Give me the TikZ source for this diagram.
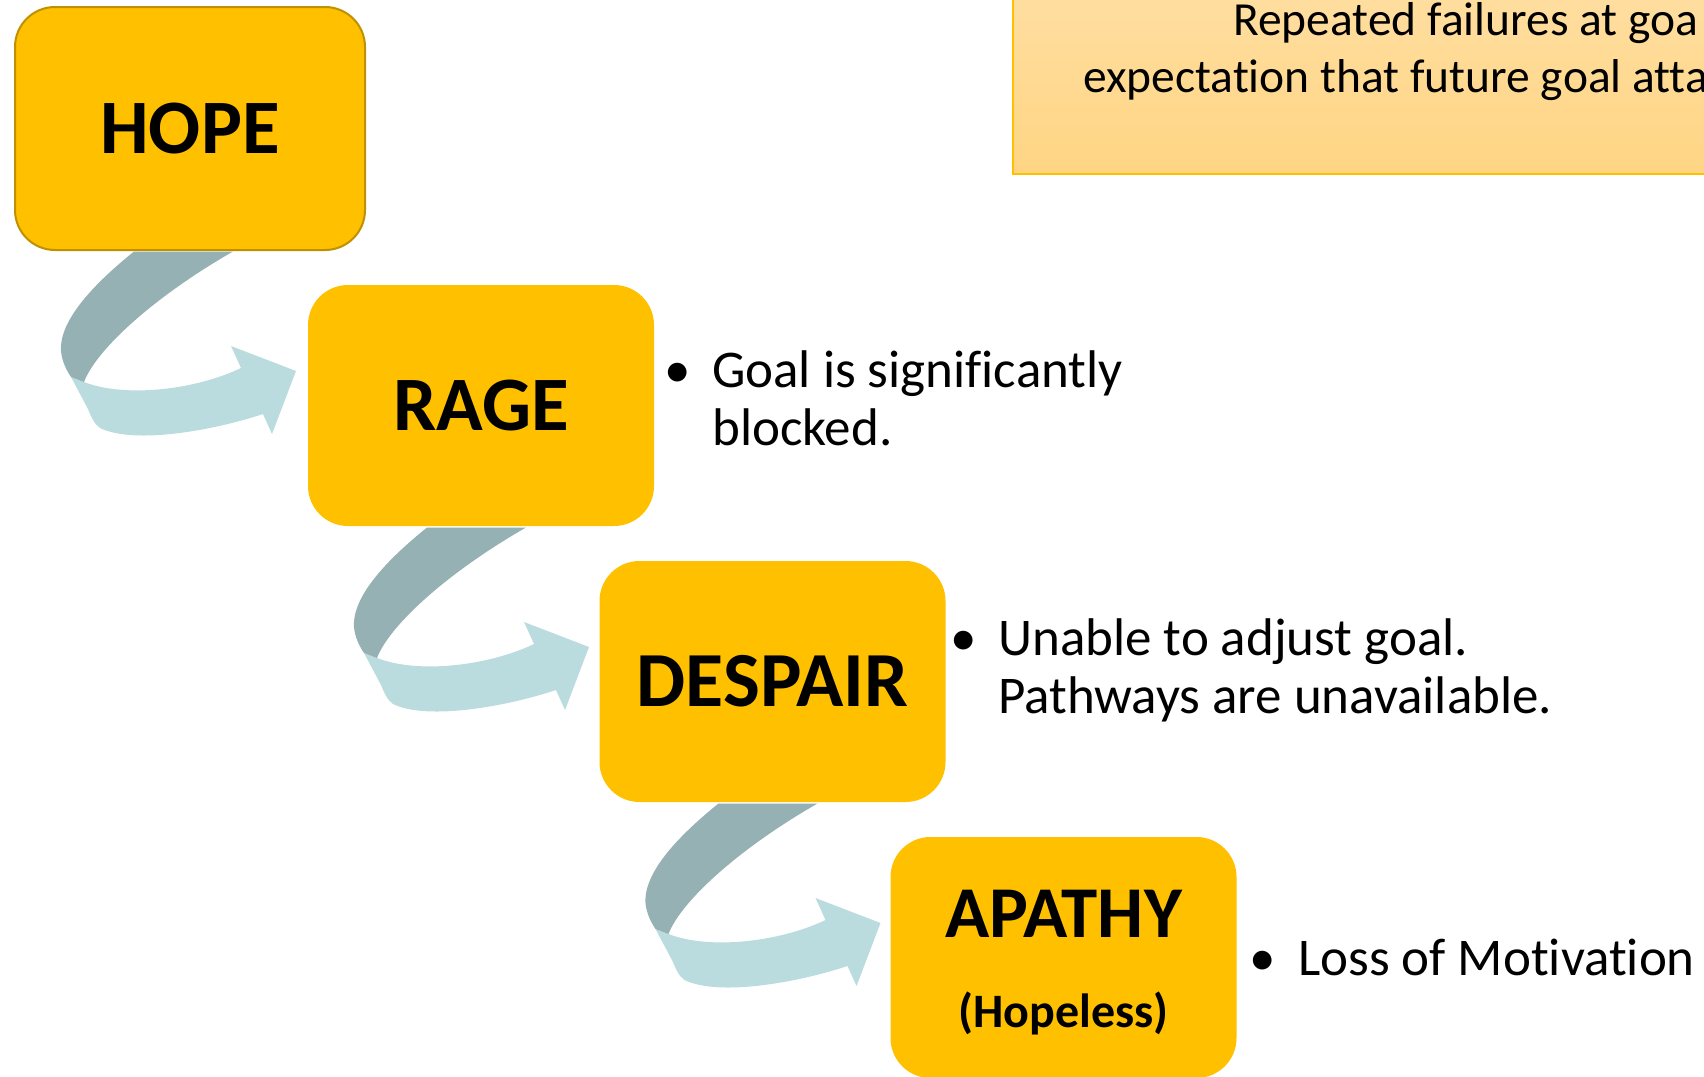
\documentclass[tikz,border=0pt]{standalone}
\usepackage{fontspec}
\setmainfont[Ligatures=NoCommon]{Carlito}
\definecolor{boxyellow}{RGB}{255,192,0}
\definecolor{hopeborder}{RGB}{191,144,0}
\definecolor{darkband}{RGB}{149,177,179}
\definecolor{lightband}{RGB}{187,220,222}
\definecolor{notetop}{RGB}{255,222,160}
\definecolor{notebot}{RGB}{255,213,132}
\definecolor{noteborder}{RGB}{255,192,0}
\tikzset{
 stagebox/.style={fill=boxyellow, rounded corners=40pt, minimum width=346pt, minimum height=241pt, inner sep=0pt, outer sep=0pt, font=\bfseries\fontsize{77}{80}\selectfont},
 bullettext/.style={anchor=base west, inner sep=0pt, font=\fontsize{53}{58}\selectfont},
 notetext/.style={anchor=base west, inner sep=0pt, font=\fontsize{47.5}{57}\selectfont},
}
\newcommand\swoosh[1]{%
\begin{scope}[shift={(#1)}]
 \fill[lightband] (56,127) -- (69,132) .. controls (110,148) and (180,140) .. (226,118)
   -- (216,96) -- (281,121) -- (257,184) -- (248,164)
   .. controls (200,180) and (120,195) .. (85,178)
   .. controls (79,174) and (76,166) .. (73,159) -- cycle;
 \fill[darkband] (119,1.5) .. controls (80,33) and (44,70) .. (46,101)
   .. controls (47,112) and (52,121) .. (56,127) -- (69,132)
   .. controls (82,98) and (142,45) .. (218,1.5) -- cycle;
\end{scope}}
\begin{document}
\begin{tikzpicture}[x=1pt,y=-1pt]
\useasboundingbox (0,0) rectangle (1704,1076);
\clip (0,0) rectangle (1704,1076);
\fill[white] (0,0) rectangle (1704,1076);
% note box at top right
\draw[noteborder, line width=1.5pt, top color=notetop, bottom color=notebot] (1013,-10) rectangle (1720,174);
\node[notetext] (note1) at (1233,35) {Repeated failures at goa};
\node[notetext] (note2) at (1083,92) {expectation that future goal atta};
% stage boxes
\node[stagebox, draw=hopeborder, line width=2pt, minimum width=350pt, minimum height=243pt] (hope) at (190,128.5) {HOPE};
\node[stagebox] (rage) at (481,405.5) {RAGE};
\node[stagebox, font=\bfseries\fontsize{78}{80}\selectfont] (despair) at (772.5,681.5) {DESPAIR};
\node[stagebox] (apathy) at (1063.5,957.5) {};
\node[anchor=base, font=\bfseries\fontsize{73}{75}\selectfont, inner sep=0pt] (apathylabel) at (1063.5,937) {APATHY};
\node[anchor=base, font=\bfseries\fontsize{48}{52}\selectfont, inner sep=0pt] (hopeless) at (1063.5,1027) {(Hopeless)};
% curved arrows
\swoosh{hope.south west}
\swoosh{rage.south west}
\swoosh{despair.south west}
% bullet texts
\node[bullettext] (rage1) at (664,387) {\makebox[48pt][l]{\textbullet}Goal is significantly};
\node[bullettext] (rage2) at (712,445) {blocked.};
\node[bullettext] (despair1) at (950,655) {\makebox[48pt][l]{\textbullet}Unable to adjust goal.};
\node[bullettext] (despair2) at (998,713) {Pathways are unavailable.};
\node[bullettext] (apathy1) at (1249,975) {\makebox[49pt][l]{\textbullet}Loss of Motivation};
\end{tikzpicture}
\end{document}
